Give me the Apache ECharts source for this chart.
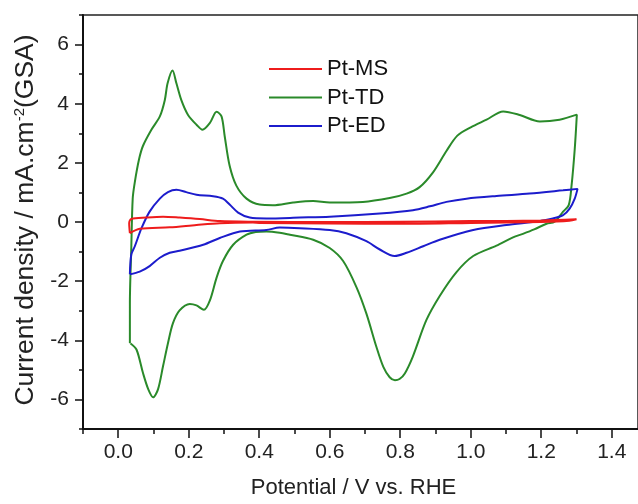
<!DOCTYPE html>
<html>
<head>
<meta charset="utf-8">
<script src="https://cdn.jsdelivr.net/npm/echarts@6/dist/echarts.min.js"></script>
<style>
html,body{margin:0;padding:0;background:#fff;}
#chart{width:638px;height:504px;}
</style>
</head>
<body>
<div id="chart"></div>
<script>
// Series names
const seriesNames = ['Pt-MS', 'Pt-TD', 'Pt-ED'];

// Pt-MS loop [potential V, current density mA/cm2]
const ptMS = [
  [0.033,-0.38],[0.031,-0.04],[0.037,0.10],[0.080,0.15],[0.127,0.18],[0.174,0.15],
  [0.231,0.10],[0.288,0.03],[0.382,0.01],[0.60,0.00],[0.80,0.01],[1.00,0.03],
  [1.20,0.05],[1.30,0.09],[1.28,0.04],[1.20,0.00],[1.00,-0.03],[0.80,-0.06],
  [0.60,-0.05],[0.40,-0.03],[0.382,-0.02],[0.288,-0.04],[0.222,-0.10],[0.146,-0.18],
  [0.061,-0.23],[0.033,-0.38]
];

// Pt-TD loop
const ptTD = [
  [0.033,-4.10],[0.033,-2.77],[0.037,-0.88],[0.041,0.79],[0.047,1.35],[0.059,2.12],
  [0.070,2.57],[0.094,3.12],[0.118,3.57],[0.132,4.12],[0.140,4.69],[0.154,5.12],
  [0.165,4.69],[0.179,4.12],[0.198,3.62],[0.222,3.29],[0.239,3.12],[0.260,3.35],
  [0.279,3.73],[0.293,3.57],[0.302,2.90],[0.316,1.90],[0.335,1.23],[0.364,0.79],
  [0.401,0.59],[0.439,0.57],[0.496,0.66],[0.553,0.71],[0.600,0.66],[0.694,0.68],
  [0.770,0.81],[0.818,0.96],[0.855,1.18],[0.893,1.68],[0.931,2.40],[0.962,2.92],
  [1.000,3.20],[1.045,3.46],[1.092,3.74],[1.139,3.62],[1.196,3.40],[1.252,3.46],
  [1.301,3.63],[1.295,2.46],[1.286,1.23],[1.278,0.57],[1.262,0.35],[1.238,0.01],
  [1.215,-0.06],[1.180,-0.25],[1.148,-0.40],[1.120,-0.52],[1.073,-0.80],[1.007,-1.15],
  [0.959,-1.70],[0.912,-2.50],[0.874,-3.32],[0.836,-4.54],[0.813,-5.12],[0.798,-5.31],
  [0.785,-5.35],[0.770,-5.25],[0.752,-4.90],[0.732,-4.21],[0.704,-3.10],[0.676,-2.21],
  [0.638,-1.32],[0.600,-0.88],[0.553,-0.60],[0.487,-0.43],[0.458,-0.36],[0.420,-0.32],
  [0.390,-0.34],[0.364,-0.43],[0.326,-0.77],[0.297,-1.32],[0.279,-1.88],[0.260,-2.65],
  [0.243,-2.97],[0.222,-2.82],[0.203,-2.77],[0.174,-2.99],[0.155,-3.43],[0.141,-4.10],
  [0.127,-4.88],[0.113,-5.65],[0.099,-5.93],[0.085,-5.65],[0.070,-5.10],[0.052,-4.32],
  [0.035,-4.11]
];

// Pt-ED loop
const ptED = [
  [0.033,-1.77],[0.037,-1.10],[0.047,-0.82],[0.066,-0.21],[0.089,0.35],[0.118,0.79],
  [0.141,1.01],[0.165,1.09],[0.193,1.01],[0.222,0.92],[0.269,0.87],[0.297,0.79],
  [0.316,0.59],[0.340,0.32],[0.373,0.15],[0.420,0.12],[0.515,0.15],[0.600,0.18],
  [0.742,0.29],[0.836,0.40],[0.884,0.53],[0.931,0.68],[0.988,0.79],[1.073,0.88],
  [1.167,0.96],[1.262,1.07],[1.303,1.12],[1.295,0.79],[1.281,0.46],[1.262,0.23],
  [1.233,0.12],[1.196,0.03],[1.101,-0.10],[1.007,-0.27],[0.912,-0.60],[0.865,-0.82],
  [0.818,-1.04],[0.784,-1.15],[0.742,-0.93],[0.704,-0.65],[0.647,-0.38],[0.600,-0.27],
  [0.515,-0.21],[0.458,-0.19],[0.420,-0.27],[0.345,-0.32],[0.288,-0.54],[0.241,-0.77],
  [0.174,-0.97],[0.146,-1.04],[0.118,-1.21],[0.089,-1.49],[0.061,-1.68],[0.033,-1.77]
];

// Axis ticks and tick labels
const xMinorTicks = [-0.1,0.0,0.1,0.2,0.3,0.4,0.5,0.6,0.7,0.8,0.9,1.0,1.1,1.2,1.3,1.4];
const xMajorTicks = [0.0,0.2,0.4,0.6,0.8,1.0,1.2,1.4];
const yMinorTicks = [-7,-6,-5,-4,-3,-2,-1,0,1,2,3,4,5,6,7];
const yMajorTicks = [-6,-4,-2,0,2,4,6];

const colors = ['#ee1c1c', '#2a8a2a', '#1c1ccc'];
const FONT = '"Liberation Sans", Arial, sans-serif';

const chart = echarts.init(document.getElementById('chart'), null, {renderer:'canvas'});
// x range: the frame is cut at the right edge of the picture (about 1.47 V)
const xr = {min:-0.1, max:1.4745};
const yr = {min:-7, max:7};

const option = {
  animation: false,
  backgroundColor: '#fff',
  grid: {left:83, top:15, right:0, bottom:70, show:true, borderColor:'#222', borderWidth:1.5, backgroundColor:'transparent'},
  legend: {
    data: seriesNames, orient:'vertical', left:269, top:58, padding:0,
    icon:'rect', itemWidth:53, itemHeight:2, itemGap:6.5,
    textStyle:{fontFamily:FONT, fontSize:22, color:'#111', lineHeight:22}
  },
  xAxis: [{
    type:'value', min:xr.min, max:xr.max, position:'bottom',
    axisLine:{show:true, onZero:false, lineStyle:{color:'#111', width:2}},
    axisTick:{show:true, inside:false, length:5, customValues:xMinorTicks, lineStyle:{color:'#111', width:1.5}},
    axisLabel:{margin:13, fontFamily:FONT, fontSize:21, color:'#222', customValues:xMajorTicks,
      formatter:v => (Math.round(v*10)/10).toFixed(1)},
    splitLine:{show:false},
    name:'Potential / V vs. RHE', nameLocation:'middle', nameGap:48,
    nameTextStyle:{fontFamily:FONT, fontSize:22, color:'#222', padding:[0,14,0,0]}
  },{
    type:'value', min:xr.min, max:xr.max, position:'bottom',
    axisLine:{show:false, onZero:false}, axisLabel:{show:false}, splitLine:{show:false},
    axisTick:{show:true, length:9, customValues:xMajorTicks, lineStyle:{color:'#111', width:1.5}}
  }],
  yAxis: [{
    type:'value', min:yr.min, max:yr.max, position:'left',
    axisLine:{show:true, onZero:false, lineStyle:{color:'#111', width:2}},
    axisTick:{show:true, inside:false, length:4, customValues:yMinorTicks, lineStyle:{color:'#111', width:1.5}},
    axisLabel:{margin:14, fontFamily:FONT, fontSize:21, color:'#222', customValues:yMajorTicks,
      formatter:v => String(Math.round(v))},
    splitLine:{show:false},
    name:'Current density / mA.cm{sup|-2}(GSA)', nameLocation:'middle', nameGap:40,
    nameTextStyle:{fontFamily:FONT, fontSize:26.5, color:'#222', padding:[0,0,0,4],
      rich:{sup:{fontFamily:FONT, fontSize:15, color:'#222', verticalAlign:'top', lineHeight:14, padding:[0,0,12,0]}}}
  },{
    type:'value', min:yr.min, max:yr.max, position:'left',
    axisLine:{show:false, onZero:false}, axisLabel:{show:false}, splitLine:{show:false},
    axisTick:{show:true, length:8, customValues:yMajorTicks, lineStyle:{color:'#111', width:1.5}}
  }],
  series: [
    {name:seriesNames[1], type:'line', data:ptTD, smooth:0.3, symbol:'none', z:2,
     lineStyle:{color:colors[1], width:2}, itemStyle:{color:colors[1]}},
    {name:seriesNames[2], type:'line', data:ptED, smooth:0.3, symbol:'none', z:3,
     lineStyle:{color:colors[2], width:2}, itemStyle:{color:colors[2]}},
    {name:seriesNames[0], type:'line', data:ptMS, smooth:0.3, symbol:'none', z:4,
     lineStyle:{color:colors[0], width:2}, itemStyle:{color:colors[0]}}
  ]
};
chart.setOption(option);
</script>
</body>
</html>
